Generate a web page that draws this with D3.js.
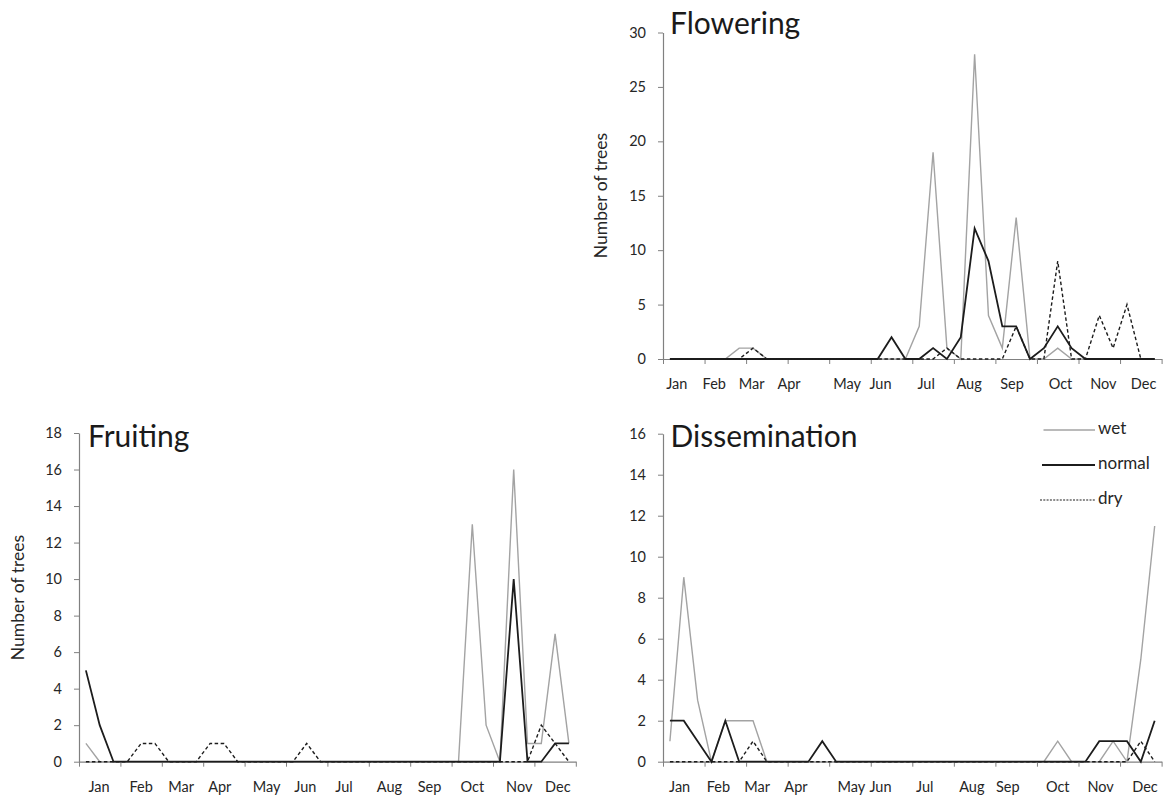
<!DOCTYPE html>
<html>
<head>
<meta charset="utf-8">
<script src="https://cdn.jsdelivr.net/npm/d3@7"></script>
<style>
  html, body { margin: 0; padding: 0; background: #fff; }
  svg { display: block; }
  text { font-family: Lato, "Open Sans", sans-serif; }
</style>
</head>
<body>
<svg id="chart" width="1166" height="800"></svg>
<script>
// ---------------- data ----------------
const months = ["Jan","Feb","Mar","Apr","May","Jun","Jul","Aug","Sep","Oct","Nov","Dec"];
const seriesNames = ["wet", "normal", "dry"];

// 36 periods (3 per month)
const floweringWet    = [0,0,0,0,0,1, 1,0,0,0,0,0, 0,0,0,0,0,0, 3,19,1,0,28,4, 1,13,0,0,1,0, 0,0,0,0,0,0];
const floweringNormal = [0,0,0,0,0,0, 0,0,0,0,0,0, 0,0,0,0,2,0, 0,1,0,2,12,9, 3,3,0,1,3,1, 0,0,0,0,0,0];
const floweringDry    = [0,0,0,0,0,0, 1,0,0,0,0,0, 0,0,0,0,0,0, 0,0,1,0,0,0, 0,3,0,0,9,0, 0,4,1,5,0,0];

const fruitingWet     = [1,0,0,0,0,0, 0,0,0,0,0,0, 0,0,0,0,0,0, 0,0,0,0,0,0, 0,0,0,0,13,2, 0,16,1,1,7,1];
const fruitingNormal  = [5,2,0,0,0,0, 0,0,0,0,0,0, 0,0,0,0,0,0, 0,0,0,0,0,0, 0,0,0,0,0,0, 0,10,0,0,1,1];
const fruitingDry     = [0,0,0,0,1,1, 0,0,0,1,1,0, 0,0,0,0,1,0, 0,0,0,0,0,0, 0,0,0,0,0,0, 0,0,0,2,1,0];

const dissemWet       = [1,9,3,0,2,2, 2,0,0,0,0,0, 0,0,0,0,0,0, 0,0,0,0,0,0, 0,0,0,0,1,0, 0,0,1,0,5,11.5];
const dissemNormal    = [2,2,1,0,2,0, 0,0,0,0,0,1, 0,0,0,0,0,0, 0,0,0,0,0,0, 0,0,0,0,0,0, 0,1,1,1,0,2];
const dissemDry       = [0,0,0,0,0,0, 1,0,0,0,0,0, 0,0,0,0,0,0, 0,0,0,0,0,0, 0,0,0,0,0,0, 0,0,0,0,1,0];

const floweringTicks = [0,5,10,15,20,25,30];
const fruitingTicks  = [0,2,4,6,8,10,12,14,16,18];
const dissemTicks    = [0,2,4,6,8,10,12,14,16];

// ---------------- layout (positions / styles) ----------------
// month label positions, in period units along the axis
const floweringLabelPos = [1.0, 3.7, 6.4, 9.1, 13.3, 15.7, 19.0, 22.1, 25.2, 28.7, 31.8, 34.7];
const fruitingLabelPos  = [1.45, 4.5, 7.4, 10.2, 13.6, 16.4, 19.2, 22.5, 25.4, 28.5, 31.9, 34.7];
const dissemLabelPos    = [1.2, 4.0, 6.8, 9.6, 13.6, 15.7, 18.9, 22.3, 24.9, 28.5, 31.6, 34.8];

const styles = {
  wet:    { stroke: "#a3a3a3", width: 1.4, dash: null },
  normal: { stroke: "#1c1c1c", width: 1.8, dash: null },
  dry:    { stroke: "#1c1c1c", width: 1.4, dash: "3.5,2.5" }
};

const panels = [
  { title: "Flowering", series: {wet: floweringWet, normal: floweringNormal, dry: floweringDry},
    ticks: floweringTicks, labelPos: floweringLabelPos,
    x0: 663, x1: 1161.6, yb: 359, yt: 32.5, yTitle: true, yTitlePos: [602.6, 195.5], titlePos: [670, 33.5], legend: false },
  { title: "Fruiting", series: {wet: fruitingWet, normal: fruitingNormal, dry: fruitingDry},
    ticks: fruitingTicks, labelPos: fruitingLabelPos,
    x0: 79, x1: 575.8, yb: 761.7, yt: 433, yTitle: true, yTitlePos: [19.5, 597.5], titlePos: [88, 447], legend: false },
  { title: "Dissemination", series: {wet: dissemWet, normal: dissemNormal, dry: dissemDry},
    ticks: dissemTicks, labelPos: dissemLabelPos,
    x0: 663, x1: 1161.6, yb: 761.7, yt: 433.7, yTitle: false, titlePos: [670.5, 447], legend: true }
];

const svg = d3.select("#chart");
const axisColor = "#808080";
const nPeriods = 36;

panels.forEach(p => {
  const g = svg.append("g");
  const maxV = p.ticks[p.ticks.length - 1];
  const x = d3.scaleLinear().domain([0, nPeriods]).range([p.x0, p.x1]);
  const y = d3.scaleLinear().domain([0, maxV]).range([p.yb, p.yt]);

  // y axis
  const ya = g.append("g").attr("transform", `translate(${p.x0},0)`)
    .call(d3.axisLeft(y).tickValues(p.ticks).tickSize(5).tickSizeOuter(0).tickPadding(12));
  ya.select(".domain").attr("stroke", axisColor).attr("stroke-width", 1.2);
  ya.selectAll(".tick line").attr("stroke", axisColor).attr("stroke-width", 1);
  ya.selectAll(".tick text").attr("fill", "#262626").style("font-size", "14.5px")
    .style("font-family", "Lato, 'Open Sans', sans-serif");

  // x axis
  const xa = g.append("g").attr("transform", `translate(0,${p.yb})`)
    .call(d3.axisBottom(x).tickValues(d3.range(0, nPeriods + 1, 3)).tickSize(5).tickSizeOuter(0).tickFormat(""));
  xa.select(".domain").attr("stroke", axisColor).attr("stroke-width", 1.2);
  xa.selectAll(".tick line").attr("stroke", axisColor).attr("stroke-width", 1);

  // month labels
  g.selectAll("text.month").data(months).enter().append("text")
    .attr("class", "month")
    .attr("x", (d, i) => x(p.labelPos[i]))
    .attr("y", p.yb + 30)
    .attr("text-anchor", "middle")
    .attr("fill", "#262626")
    .style("font-size", "14.5px")
    .text(d => d);

  // lines
  const line = d3.line().x((d, i) => x(i + 0.5)).y(d => y(d));
  seriesNames.forEach(name => {
    const s = styles[name];
    g.append("path")
      .datum(p.series[name])
      .attr("d", line)
      .attr("fill", "none")
      .attr("stroke", s.stroke)
      .attr("stroke-width", s.width)
      .attr("stroke-linejoin", "miter")
      .attr("stroke-dasharray", s.dash);
  });

  // title
  g.append("text")
    .attr("x", p.titlePos[0]).attr("y", p.titlePos[1])
    .attr("fill", "#1a1a1a")
    .style("font-size", "30px")
    .text(p.title);

  // y-axis title
  if (p.yTitle) {
    g.append("text")
      .attr("transform", `translate(${p.yTitlePos[0]},${p.yTitlePos[1]}) rotate(-90)`)
      .attr("text-anchor", "middle")
      .attr("dominant-baseline", "middle")
      .attr("fill", "#262626")
      .style("font-size", "17.5px")
      .text("Number of trees");
  }

  // legend
  if (p.legend) {
    const lg = g.append("g");
    const items = [
      { name: "wet",    y: 430, x0: 1043.5, dash: null },
      { name: "normal", y: 465, x0: 1042,   dash: null },
      { name: "dry",    y: 500, x0: 1040,   dash: "2,1.3" }
    ];
    items.forEach(it => {
      const s = styles[it.name];
      lg.append("line")
        .attr("x1", it.x0).attr("x2", 1095)
        .attr("y1", it.y).attr("y2", it.y)
        .attr("stroke", s.stroke)
        .attr("stroke-width", it.name === "dry" ? 1.2 : s.width)
        .attr("stroke-dasharray", it.dash);
      lg.append("text")
        .attr("x", 1098).attr("y", it.y)
        .attr("dominant-baseline", "middle")
        .attr("fill", "#262626")
        .style("font-size", "17px")
        .text(it.name);
    });
  }
});
</script>
</body>
</html>
